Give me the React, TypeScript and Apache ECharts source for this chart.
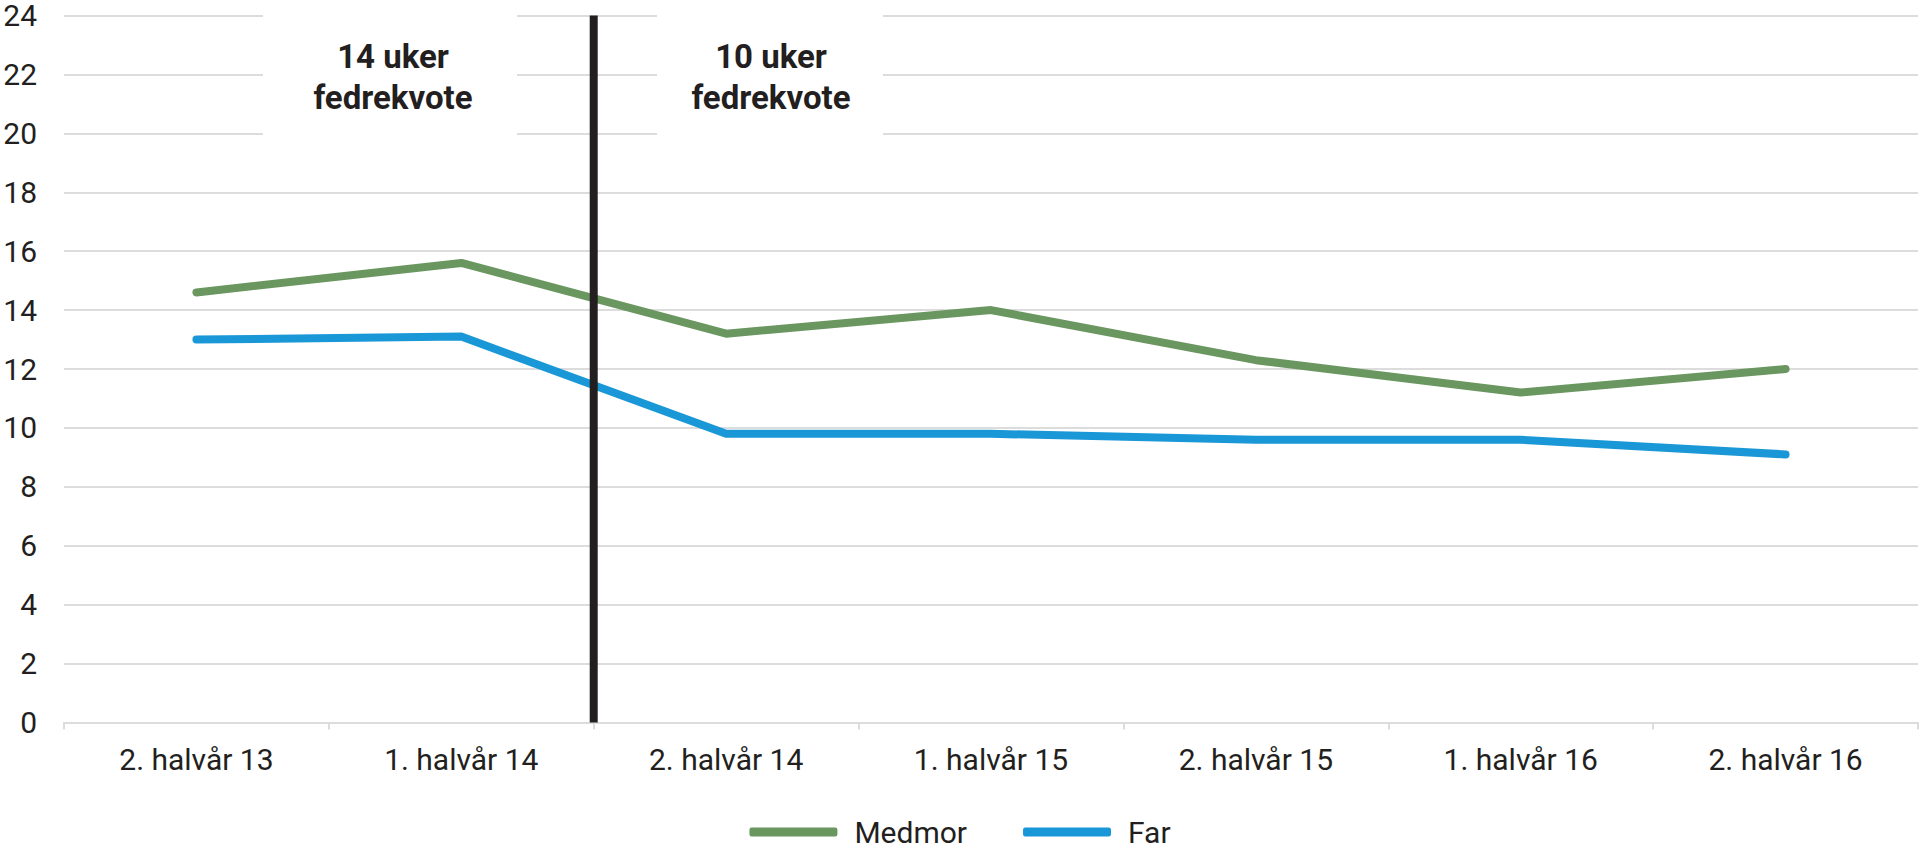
import React, { useEffect, useRef } from "react";
import * as echarts from "echarts";

const categories = [
  "2. halvår 13",
  "1. halvår 14",
  "2. halvår 14",
  "1. halvår 15",
  "2. halvår 15",
  "1. halvår 16",
  "2. halvår 16",
];
const medmor = [14.6, 15.6, 13.2, 14.0, 12.3, 11.2, 12.0];
const far = [13.0, 13.1, 9.8, 9.8, 9.6, 9.6, 9.1];
const seriesNames = ["Medmor", "Far"];
const yMin = 0;
const yMax = 24;
const yInterval = 2;
const dividerIndex = 2; // boundary between "1. halvår 14" and "2. halvår 14"
const annotations = ["14 uker\nfedrekvote", "10 uker\nfedrekvote"];

const FONT = "Roboto, 'Noto Sans', sans-serif";
const GREEN = "#6a9660";
const BLUE = "#1a97d6";
const DARK = "#231f20";
const GRID = "#dcdcdc";

export default function App() {
  const ref = useRef<HTMLDivElement>(null);

  useEffect(() => {
    if (!ref.current) return;
    const chart = echarts.init(ref.current, undefined, { renderer: "svg" });
    const option: any = {
      animation: false,
      backgroundColor: "#ffffff",
      textStyle: { fontFamily: FONT },
      grid: { left: 64, right: 2, top: 15.5, bottom: 134.5, containLabel: false },
      legend: {
        data: seriesNames,
        bottom: 5,
        left: "center",
        itemWidth: 88,
        itemHeight: 9,
        itemGap: 56,
        icon: "roundRect",
        textStyle: { fontSize: 30, color: DARK, fontFamily: FONT, padding: [0, 0, 0, 12] },
      },
      xAxis: [
        {
          type: "category",
          data: categories,
          boundaryGap: true,
          axisLine: { show: true, lineStyle: { color: GRID, width: 2 } },
          axisTick: { show: true, length: 7, lineStyle: { color: GRID, width: 2 } },
          axisLabel: { fontSize: 30, color: DARK, margin: 22, fontFamily: FONT },
          splitLine: { show: false },
        },
        {
          type: "value",
          min: 0,
          max: categories.length,
          show: false,
          position: "bottom",
        },
      ],
      yAxis: {
        type: "value",
        min: yMin,
        max: yMax,
        interval: yInterval,
        axisLine: { show: false },
        axisTick: { show: false },
        axisLabel: { fontSize: 30, color: DARK, margin: 27, fontFamily: FONT },
        splitLine: { show: true, lineStyle: { color: GRID, width: 2 } },
      },
      series: [
        {
          name: seriesNames[0],
          type: "line",
          data: medmor,
          symbol: "none",
          z: 3,
          lineStyle: { color: GREEN, width: 8, cap: "round", join: "round" },
          itemStyle: { color: GREEN },
        },
        {
          name: seriesNames[1],
          type: "line",
          data: far,
          symbol: "none",
          z: 3,
          lineStyle: { color: BLUE, width: 8, cap: "round", join: "round" },
          itemStyle: { color: BLUE },
        },
        {
          name: "divider",
          type: "line",
          xAxisIndex: 1,
          data: [
            [dividerIndex, yMin],
            [dividerIndex, yMax],
          ],
          symbol: "none",
          z: 5,
          lineStyle: { color: DARK, width: 8 },
          silent: true,
        },
      ],
      graphic: [
        {
          type: "rect",
          z: 10,
          shape: { x: 263, y: 0, width: 254, height: 148 },
          style: { fill: "#ffffff" },
        },
        {
          type: "rect",
          z: 10,
          shape: { x: 657, y: 0, width: 226, height: 148 },
          style: { fill: "#ffffff" },
        },
        {
          type: "text",
          z: 11,
          x: 393,
          y: 36,
          style: {
            text: annotations[0],
            fontSize: 33,
            fontWeight: "bold",
            fontFamily: FONT,
            lineHeight: 41,
            fill: DARK,
            align: "center",
            verticalAlign: "top",
          },
        },
        {
          type: "text",
          z: 11,
          x: 771,
          y: 36,
          style: {
            text: annotations[1],
            fontSize: 33,
            fontWeight: "bold",
            fontFamily: FONT,
            lineHeight: 41,
            fill: DARK,
            align: "center",
            verticalAlign: "top",
          },
        },
      ],
    };
    chart.setOption(option);
    return () => chart.dispose();
  }, []);

  return (
    <div
      ref={ref}
      style={{ position: "fixed", left: 0, top: 0, width: 1920, height: 857 }}
    />
  );
}
